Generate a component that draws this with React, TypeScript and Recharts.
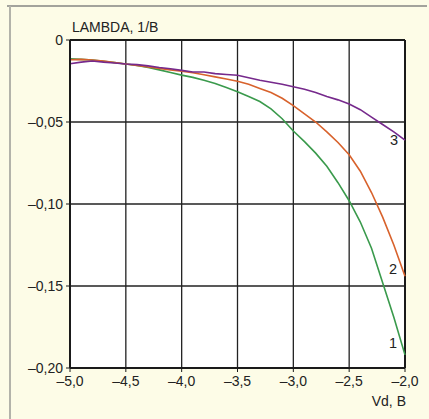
import React from 'react';
import { LineChart, Line, XAxis, YAxis, CartesianGrid, ReferenceLine, Customized } from 'recharts';

const volts = [
  -5.0, -4.9, -4.8, -4.7, -4.6, -4.5, -4.4, -4.3, -4.2, -4.1, -4.0,
  -3.9, -3.8, -3.7, -3.6, -3.5, -3.4, -3.3, -3.2, -3.1, -3.0,
  -2.9, -2.8, -2.7, -2.6, -2.5, -2.4, -2.3, -2.2, -2.1, -2.0,
];

// curve 1 (green)
const lambda1 = [
  -0.0115, -0.0118, -0.0122, -0.013, -0.0138, -0.0146, -0.0155, -0.0168, -0.0182, -0.0198, -0.0214,
  -0.0228, -0.0245, -0.0265, -0.029, -0.0315, -0.0345, -0.0375, -0.042, -0.048, -0.0555,
  -0.062, -0.069, -0.077, -0.087, -0.098, -0.111, -0.127, -0.148, -0.169, -0.192,
];

// curve 2 (orange)
const lambda2 = [
  -0.012, -0.0118, -0.0122, -0.0128, -0.0137, -0.0146, -0.0155, -0.0165, -0.0173, -0.0182, -0.019,
  -0.02, -0.0212, -0.0225, -0.0238, -0.0252, -0.027, -0.0295, -0.032, -0.0355, -0.04,
  -0.045, -0.05, -0.056, -0.0625, -0.07, -0.08, -0.093, -0.108, -0.125, -0.144,
];

// curve 3 (purple)
const lambda3 = [
  -0.0145, -0.0135, -0.0128, -0.0135, -0.014, -0.0146, -0.015, -0.0158, -0.0168, -0.0175, -0.0185,
  -0.0195, -0.0195, -0.0205, -0.021, -0.0215, -0.023, -0.0245, -0.0258, -0.027, -0.0285,
  -0.03, -0.032, -0.0345, -0.0365, -0.039, -0.0425, -0.047, -0.0515, -0.056, -0.061,
];

const xTicks = [-5.0, -4.5, -4.0, -3.5, -3.0, -2.5, -2.0];
const yTicks = [0, -0.05, -0.1, -0.15, -0.2];

const data = volts.map((v, i) => ({ v, l1: lambda1[i], l2: lambda2[i], l3: lambda3[i] }));

const FONT = '"Liberation Sans", Arial, sans-serif';

const fmt = (n: number, digits: number) =>
  n === 0 ? '0' : n.toFixed(digits).replace('.', ',').replace('-', '\u2013');

const endLabel = (text: string, dx: number, dy: number) => (props: any) => {
  if (props.index !== data.length - 1) return null;
  return (
    <text x={props.x + dx} y={props.y + dy} fontSize={14.5} fontFamily={FONT} fill="#222" textAnchor="middle" dominantBaseline="central">
      {text}
    </text>
  );
};

const Titles = () => (
  <g fontFamily={FONT} fill="#222" fontSize={14}>
    <text x={72} y={32}>LAMBDA, 1/B</text>
    <text x={406} y={406} textAnchor="end">Vd, B</text>
  </g>
);

export default function App() {
  return (
    <div style={{ position: 'absolute', left: 0, top: 0, width: 429, height: 419, background: '#fdfce7', overflow: 'hidden' }}>
      <div style={{ position: 'absolute', left: 7, top: 5, width: 420, height: 2, background: '#a3a39c' }} />
      <div style={{ position: 'absolute', left: 9, top: 6, width: 2, height: 413, background: '#b3b3aa' }} />
      <div style={{ position: 'absolute', left: 0, top: 0 }}>
        <LineChart width={429} height={419} data={data} margin={{ top: 40, right: 24, bottom: 21, left: 10 }}>
          <CartesianGrid stroke="#222" strokeWidth={1.3} fill="#ffffff" fillOpacity={1} />
          <XAxis
            dataKey="v"
            type="number"
            domain={[-5, -2]}
            ticks={xTicks}
            tickFormatter={(n: number) => fmt(n, 1)}
            height={30}
            tickSize={4}
            tickMargin={4}
            axisLine={{ stroke: '#1a1a1a', strokeWidth: 2 }}
            tickLine={{ stroke: '#1a1a1a' }}
            tick={{ fill: '#222', fontSize: 14, fontFamily: FONT }}
          />
          <YAxis
            type="number"
            domain={[-0.2, 0]}
            ticks={yTicks}
            tickFormatter={(n: number) => fmt(n, 2)}
            width={60}
            tickSize={4}
            tickMargin={3}
            axisLine={{ stroke: '#1a1a1a', strokeWidth: 2 }}
            tickLine={{ stroke: '#1a1a1a' }}
            tick={{ fill: '#222', fontSize: 14, fontFamily: FONT }}
          />
          <ReferenceLine y={0} stroke="#1a1a1a" strokeWidth={2} />
          <ReferenceLine x={-2} stroke="#1a1a1a" strokeWidth={2} />
          <Line dataKey="l1" stroke="#3a9a4c" strokeWidth={1.6} dot={false} isAnimationActive={false} label={endLabel('1', -12, -12)} />
          <Line dataKey="l2" stroke="#d8622c" strokeWidth={1.6} dot={false} isAnimationActive={false} label={endLabel('2', -12, -7)} />
          <Line dataKey="l3" stroke="#76298c" strokeWidth={1.6} dot={false} isAnimationActive={false} label={endLabel('3', -11, 0)} />
          <Customized component={<Titles />} />
        </LineChart>
      </div>
    </div>
  );
}
